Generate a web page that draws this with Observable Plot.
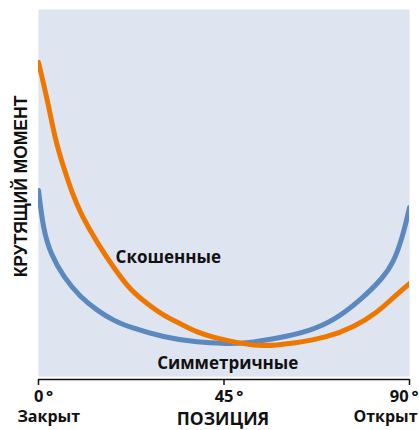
<!DOCTYPE html>
<html>
<head>
<meta charset="utf-8">
<script src="https://cdn.jsdelivr.net/npm/d3@7"></script>
<script src="https://cdn.jsdelivr.net/npm/@observablehq/plot@0.6"></script>
<style>
  html, body { margin: 0; padding: 0; background: #fff; }
</style>
</head>
<body>
<div id="chart"></div>
<script>
// Position in degrees, torque in relative units
const skewedPos    = [0, 2.2, 4.1, 6.1, 8.2, 10.2, 14.3, 18.2, 22.3, 26.4, 30.3, 34.4, 38.6, 42.5, 45.9, 49.7, 53.9, 61.9, 70.1, 76.4, 82.2, 86.1, 90];
const skewedTorque = [85.7, 75.4, 64.6, 57.3, 50.3, 44.9, 36.8, 30.3, 24.1, 20.5, 17.3, 15.1, 12.7, 11.4, 10.5, 9.7, 8.9, 9.7, 11.4, 14.1, 18.1, 22.2, 25.9];

const symPos    = [0, 1.2, 2.9, 6.1, 10.2, 14.3, 18.2, 22.3, 30.3, 38.6, 45.9, 49.7, 58.0, 66.0, 71.6, 78.1, 83.7, 86.1, 88.3, 90];
const symTorque = [51.1, 40.3, 34.1, 27.6, 22.2, 18.6, 15.9, 14.1, 11.4, 10.0, 9.7, 9.7, 11.1, 13.2, 15.9, 21.4, 27.6, 31.6, 38.4, 46.5];

const tickValues = [0, 45, 90];
const seriesNames = ["Скошенные", "Симметричные"];
const seriesLabelPos = [[18.7, 33.0], [45.9, 4.3]];
const xLabel = "ПОЗИЦИЯ";
const yLabel = "КРУТЯЩИЙ МОМЕНТ";
const endLabels = ["Закрыт", "Открыт"];

const skewed = skewedPos.map((x, i) => ({x, y: skewedTorque[i]}));
const sym = symPos.map((x, i) => ({x, y: symTorque[i]}));

const font = "'Open Sans', 'DejaVu Sans', sans-serif";

const chart = Plot.plot({
  width: 419,
  height: 430,
  marginLeft: 38,
  marginRight: 10,
  marginTop: 9,
  marginBottom: 51,
  style: {fontFamily: font, background: "#fff", overflow: "visible"},
  x: {domain: [0, 90], axis: null},
  y: {domain: [0, 100], axis: null},
  marks: [
    Plot.frame({fill: "#dee4f0", stroke: null, insetBottom: 3}),
    Plot.line(sym, {x: "x", y: "y", stroke: "#5b89bf", strokeWidth: 5, curve: "basis", clip: true}),
    Plot.line(skewed, {x: "x", y: "y", stroke: "#ee7700", strokeWidth: 5, curve: "basis", clip: true}),
    Plot.text([seriesLabelPos[0]], {x: d => d[0], y: d => d[1], text: () => seriesNames[0], textAnchor: "start", fontSize: 17, fontWeight: "bold", fill: "#111"}),
    Plot.text([seriesLabelPos[1]], {x: d => d[0], y: d => d[1], text: () => seriesNames[1], textAnchor: "middle", fontSize: 17, fontWeight: "bold", fill: "#111"}),
    Plot.ruleY([0], {stroke: "#111", strokeWidth: 1.5}),
    Plot.axisX({ticks: tickValues, tickSize: 6, tickFormat: () => "", label: null, stroke: "#111", strokeWidth: 1.5}),
    Plot.text(tickValues.filter(d => d < 90), {x: d => d, text: d => d + "\u2009°", frameAnchor: "bottom", dy: 17, dx: 5, textAnchor: "middle", lineAnchor: "middle", fontSize: 16.5, fontWeight: "bold", fill: "#111"}),
    Plot.text(tickValues.filter(d => d === 90), {x: d => d, text: d => d + "\u2009°", frameAnchor: "bottom", dy: 17, dx: 9, textAnchor: "end", lineAnchor: "middle", fontSize: 16.5, fontWeight: "bold", fill: "#111"}),
    Plot.text([tickValues[0]], {x: d => d, text: () => endLabels[0], frameAnchor: "bottom", dy: 37, dx: -21, textAnchor: "start", lineAnchor: "middle", fontSize: 16, fontWeight: "bold", fill: "#111"}),
    Plot.text([tickValues[2]], {x: d => d, text: () => endLabels[1], frameAnchor: "bottom", dy: 37, dx: 8, textAnchor: "end", lineAnchor: "middle", fontSize: 16, fontWeight: "bold", fill: "#111"}),
    Plot.text([tickValues[1]], {x: d => d, text: () => xLabel, frameAnchor: "bottom", dy: 40, dx: -1, textAnchor: "middle", lineAnchor: "middle", fontSize: 17.5, fontWeight: "bold", fill: "#111"}),
    Plot.text([yLabel], {text: d => d, frameAnchor: "left", dx: -17, dy: -8, rotate: -90, textAnchor: "middle", lineAnchor: "middle", fontSize: 17.5, fontWeight: "bold", fill: "#111", fontFamily: "'Liberation Sans', Arial, sans-serif"})
  ]
});
document.getElementById("chart").appendChild(chart);
</script>
</body>
</html>
